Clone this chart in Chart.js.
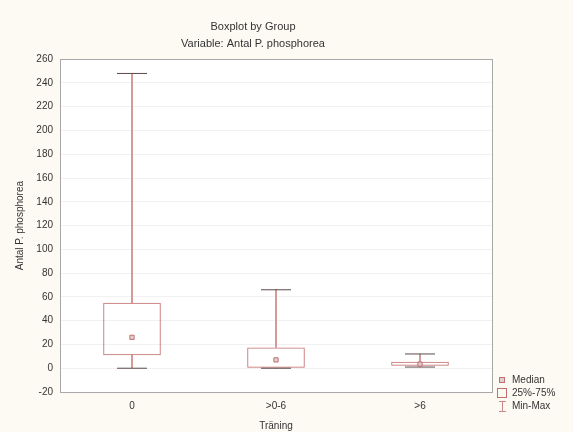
<!DOCTYPE html>
<html>
<head>
<meta charset="utf-8">
<script src="https://cdn.jsdelivr.net/npm/chart.js@4"></script>
<style>
  html, body { margin: 0; padding: 0; background: #fdfaf3; }
  #wrap { width: 573px; height: 432px; }
</style>
</head>
<body>
<div id="wrap"><canvas id="boxChart"></canvas></div>
<script>
// =============== Données
const groups = ['0', '>0-6', '>6'];
const minVals = [0, 0, 1];
const q1Vals = [11, 0, 2];
const medianVals = [26, 7, 3.5];
const q3Vals = [55, 17.5, 5.5];
const maxVals = [248, 66, 12];
const legendLabels = ['Median', '25%-75%', 'Min-Max'];

const boxColor = '#c46e6e';
const whiskerColor = '#cc8686';
const capColor = '#5e4848';

// fond blanc + cadre + légende
const decor = {
    id: 'decor',
    beforeDraw(chart) {
        const { ctx, chartArea: a } = chart;
        ctx.save();
        ctx.fillStyle = '#fdfaf3';
        ctx.fillRect(0, 0, chart.width, chart.height);
        ctx.fillStyle = '#ffffff';
        ctx.fillRect(a.left, a.top, a.right - a.left, a.bottom - a.top);
        ctx.restore();
    },
    afterDraw(chart) {
        const { ctx, chartArea: a } = chart;
        ctx.save();
        ctx.strokeStyle = '#a8a8a8';
        ctx.lineWidth = 1;
        ctx.strokeRect(Math.round(a.left) + 0.5, Math.round(a.top) + 0.5,
            Math.round(a.right - a.left), Math.round(a.bottom - a.top));

        // légende
        const lx = a.right + 10, ly = a.bottom - 12;
        ctx.font = '10px "Liberation Sans", Arial, sans-serif';
        ctx.fillStyle = '#333';
        ctx.textBaseline = 'middle';
        legendLabels.forEach((t, i) => ctx.fillText(t, lx + 10, ly + i * 13));
        // median
        ctx.fillStyle = '#ddd0d0';
        ctx.strokeStyle = boxColor;
        ctx.fillRect(lx - 2.5, ly - 2.5, 5, 5);
        ctx.strokeRect(lx - 2.5, ly - 2.5, 5, 5);
        // box
        ctx.fillStyle = '#fff';
        ctx.strokeRect(lx - 4.5, ly + 13 - 4.5, 9, 9);
        // min-max
        ctx.strokeStyle = whiskerColor;
        ctx.beginPath();
        ctx.moveTo(lx + 0.5, ly + 21); ctx.lineTo(lx + 0.5, ly + 32);
        ctx.moveTo(lx - 3, ly + 21.5); ctx.lineTo(lx + 4, ly + 21.5);
        ctx.moveTo(lx - 3, ly + 31.5); ctx.lineTo(lx + 4, ly + 31.5);
        ctx.stroke();
        ctx.restore();
    }
};

const ctx = document.getElementById('boxChart');

new Chart(ctx, {
    data: {
        labels: groups,
        datasets: [
            {   // moustache haute
                type: 'bar',
                data: groups.map((g, i) => [q3Vals[i], maxVals[i]]),
                backgroundColor: whiskerColor,
                barThickness: 1,
                grouped: false,
                order: 5
            },
            {   // moustache basse
                type: 'bar',
                data: groups.map((g, i) => [minVals[i], q1Vals[i]]),
                backgroundColor: whiskerColor,
                barThickness: 1,
                grouped: false,
                order: 5
            },
            {   // boîtes 25%-75%
                type: 'bar',
                data: groups.map((g, i) => [q1Vals[i], q3Vals[i]]),
                backgroundColor: 'rgba(255,255,255,0)',
                borderColor: boxColor,
                borderWidth: 1,
                borderSkipped: false,
                barPercentage: 0.4,
                categoryPercentage: 1,
                grouped: false,
                order: 4
            },
            {   // max
                type: 'line',
                data: maxVals,
                showLine: false,
                pointStyle: 'line',
                pointRadius: 15,
                borderColor: capColor,
                borderWidth: 1,
                order: 2
            },
            {   // min
                type: 'line',
                data: minVals,
                showLine: false,
                pointStyle: 'line',
                pointRadius: 15,
                borderColor: capColor,
                borderWidth: 1,
                order: 2
            },
            {   // médiane
                type: 'line',
                data: medianVals,
                showLine: false,
                pointStyle: 'rect',
                pointRadius: 3,
                borderColor: boxColor,
                backgroundColor: '#ddd0d0',
                borderWidth: 1,
                order: 1
            }
        ]
    },
    options: {
        responsive: true,
        maintainAspectRatio: false,
        animation: false,
        events: [],
        layout: { padding: { left: 14, right: 81, top: 0, bottom: 0 } },
        plugins: {
            legend: { display: false },
            tooltip: { enabled: false },
            title: {
                display: true,
                text: ['Boxplot by Group', 'Variable: Antal P. phosphorea'],
                color: '#333',
                font: { family: '"Liberation Sans", Arial, sans-serif', size: 11, weight: 'normal', lineHeight: 1.6 },
                padding: { top: 18, bottom: 6 }
            }
        },
        scales: {
            x: {
                type: 'category',
                offset: true,
                grid: { display: false, drawTicks: false },
                border: { display: false },
                ticks: {
                    color: '#333',
                    padding: 8,
                    font: { family: '"Liberation Sans", Arial, sans-serif', size: 10 }
                },
                title: {
                    display: true,
                    text: 'Träning',
                    color: '#333',
                    padding: { top: 0, bottom: 0 },
                    font: { family: '"Liberation Sans", Arial, sans-serif', size: 10 }
                }
            },
            y: {
                min: -20,
                max: 260,
                afterFit(axis) { axis.width = 46; },
                grid: { color: '#f1f1f1', drawTicks: false },
                border: { display: false },
                ticks: {
                    stepSize: 20,
                    color: '#333',
                    padding: 7,
                    font: { family: '"Liberation Sans", Arial, sans-serif', size: 10 }
                },
                title: {
                    display: true,
                    text: 'Antal P. phosphorea',
                    color: '#333',
                    padding: 0,
                    font: { family: '"Liberation Sans", Arial, sans-serif', size: 10 }
                }
            }
        }
    },
    plugins: [decor]
});
</script>
</body>
</html>
